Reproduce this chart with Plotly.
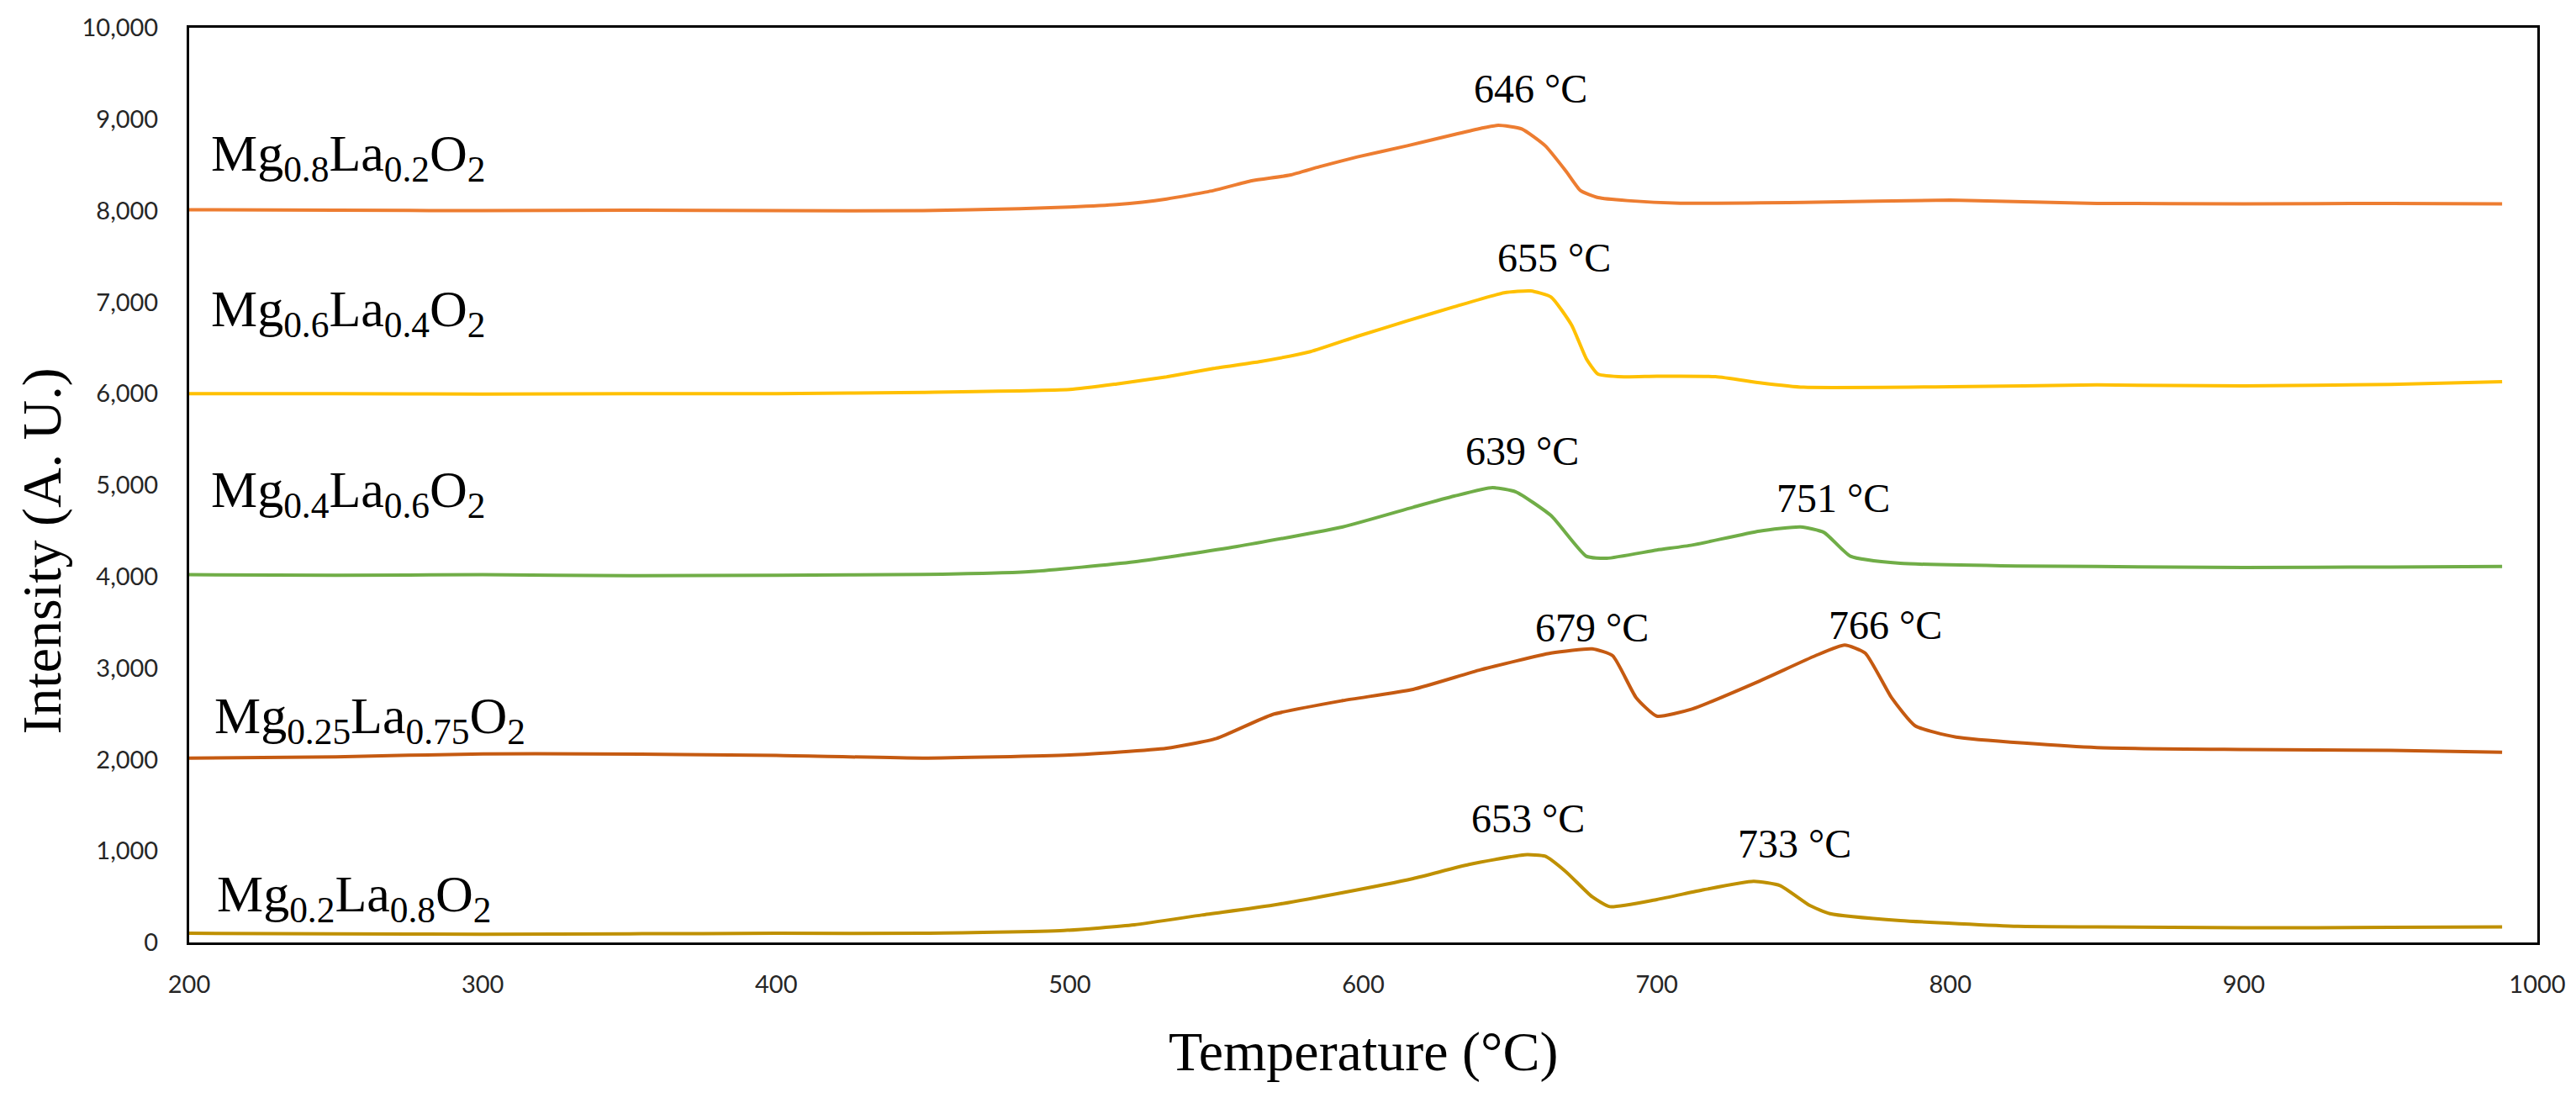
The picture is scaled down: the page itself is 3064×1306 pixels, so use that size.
import plotly.graph_objects as go

# ---- data ----
names = ["Mg<sub>0.8</sub>La<sub>0.2</sub>O<sub>2</sub>",
         "Mg<sub>0.6</sub>La<sub>0.4</sub>O<sub>2</sub>",
         "Mg<sub>0.4</sub>La<sub>0.6</sub>O<sub>2</sub>",
         "Mg<sub>0.25</sub>La<sub>0.75</sub>O<sub>2</sub>",
         "Mg<sub>0.2</sub>La<sub>0.8</sub>O<sub>2</sub>"]
colors = ["#ED7D31", "#FFC000", "#70AD47", "#C55A11", "#BF9000"]

t_08 = [200, 250, 300, 350, 400, 450, 483, 500, 516, 533, 549, 562, 575, 585, 598, 615, 631, 640, 646, 654, 662, 669, 674, 680, 690, 708, 750, 800, 850, 900, 950, 988]
v_08 = [8010, 8005, 8000, 8005, 8000, 8000, 8021, 8040, 8067, 8128, 8220, 8327, 8389, 8480, 8588, 8710, 8833, 8900, 8934, 8894, 8710, 8435, 8220, 8143, 8110, 8082, 8090, 8115, 8080, 8075, 8080, 8075]

t_06 = [200, 250, 300, 350, 400, 450, 500, 516, 533, 549, 565, 582, 598, 615, 631, 648, 657, 664, 671, 676, 680, 689, 700, 720, 735, 750, 800, 850, 900, 950, 988]
v_06 = [6000, 6000, 5995, 6000, 6000, 6014, 6045, 6106, 6183, 6275, 6351, 6459, 6627, 6795, 6949, 7102, 7123, 7056, 6749, 6382, 6213, 6183, 6190, 6185, 6120, 6070, 6075, 6095, 6085, 6100, 6130]

t_04 = [200, 250, 300, 350, 400, 450, 486, 522, 557, 593, 617, 631, 644, 652, 664, 676, 683, 700, 712, 735, 749, 757, 766, 783, 823, 850, 900, 950, 988]
v_04 = [4020, 4015, 4020, 4010, 4015, 4023, 4053, 4161, 4329, 4543, 4758, 4880, 4972, 4926, 4666, 4222, 4200, 4290, 4344, 4497, 4543, 4482, 4222, 4145, 4115, 4110, 4100, 4105, 4110]

t_025 = [200, 250, 300, 336, 400, 450, 500, 533, 550, 569, 593, 617, 640, 664, 678, 685, 693, 700, 712, 735, 754, 764, 771, 780, 788, 802, 850, 900, 950, 988]
v_025 = [2016, 2030, 2062, 2062, 2045, 2016, 2050, 2123, 2230, 2491, 2644, 2767, 2981, 3164, 3210, 3134, 2675, 2475, 2552, 2858, 3134, 3251, 3164, 2675, 2369, 2245, 2130, 2110, 2100, 2080]

t_02 = [200, 250, 300, 350, 400, 450, 498, 522, 545, 569, 593, 617, 636, 655, 662, 669, 678, 684, 700, 716, 733, 742, 752, 759, 783, 823, 850, 900, 950, 988]
v_02 = [100, 95, 90, 95, 100, 101, 131, 193, 300, 407, 545, 699, 852, 959, 943, 775, 499, 392, 469, 576, 668, 622, 407, 315, 239, 177, 170, 160, 165, 170]

series_t = [t_08, t_06, t_04, t_025, t_02]
series_v = [v_08, v_06, v_04, v_025, v_02]

# sample-name label positions (left x, centre y)
label_x = [207, 207, 207, 208, 209]
label_y = [8585, 6893, 4917, 2436, 496]

# peak labels
peak_text = ["646 °C", "655 °C", "639 °C", "751 °C", "679 °C", "766 °C", "653 °C", "733 °C"]
peak_x = [657, 665, 654, 760, 678, 778, 656, 747]
peak_y = [9330, 7485, 5370, 4860, 3440, 3472, 1357, 1082]

x_ticks = [200, 300, 400, 500, 600, 700, 800, 900, 1000]
y_ticks = [0, 1000, 2000, 3000, 4000, 5000, 6000, 7000, 8000, 9000, 10000]

fig = go.Figure()
for t, v, c, n in zip(series_t, series_v, colors, names):
    fig.add_trace(go.Scatter(x=t, y=v, mode="lines", name=n,
                             line=dict(color=c, width=4, shape="spline", smoothing=0.5),
                             showlegend=False))

serif = "Liberation Serif"
for n, lx, ly in zip(names, label_x, label_y):
    fig.add_annotation(x=lx, y=ly, text=n, showarrow=False, xanchor="left", yanchor="middle",
                       font=dict(family=serif, size=62, color="black"))
for s, px, py in zip(peak_text, peak_x, peak_y):
    fig.add_annotation(x=px, y=py, text=s, showarrow=False, xanchor="center", yanchor="middle",
                       font=dict(family=serif, size=48, color="black"))

fig.add_annotation(xref="paper", yref="paper", x=0.5, y=-0.1195, text="Temperature (°C)",
                   showarrow=False, xanchor="center", yanchor="middle",
                   font=dict(family=serif, size=66, color="black"))
fig.add_annotation(xref="paper", yref="paper", x=-0.0626, y=0.428, text="Intensity (A. U.)",
                   showarrow=False, xanchor="center", yanchor="middle", textangle=-90,
                   font=dict(family=serif, size=66, color="black"))

fig.update_layout(
    width=3064, height=1306,
    margin=dict(l=225, r=44, t=33, b=185),
    paper_bgcolor="white", plot_bgcolor="white",
)
fig.update_xaxes(range=[200, 1000], tickvals=x_ticks, ticktext=[str(v) for v in x_ticks],
                 showgrid=False, zeroline=False, showline=True, linecolor="black", linewidth=3,
                 mirror=True, ticks="", ticklabelstandoff=22,
                 tickfont=dict(family="Lato", size=29, color="#262626"))
fig.update_yaxes(range=[0, 10000], tickvals=y_ticks, tickformat=",",
                 showgrid=False, zeroline=False, showline=True, linecolor="black", linewidth=3,
                 mirror=True, ticks="", ticklabelstandoff=28,
                 tickfont=dict(family="Lato", size=29, color="#262626"))

fig.write_html("out.html")
